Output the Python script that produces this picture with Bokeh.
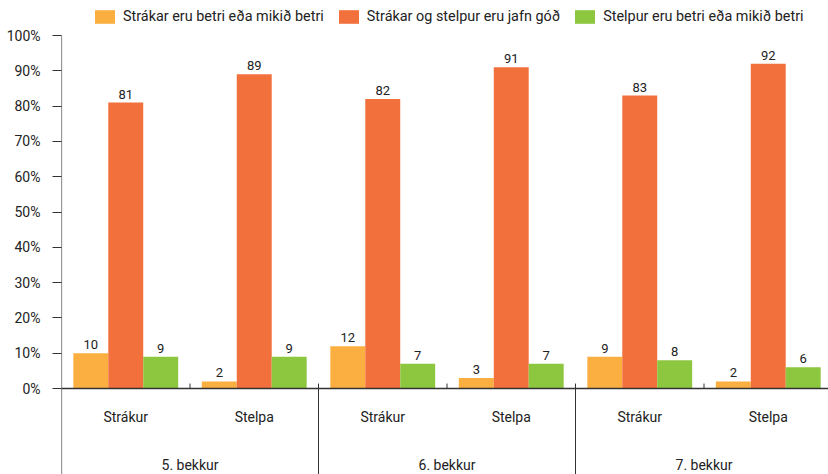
from bokeh.plotting import figure
from bokeh.models import Range1d, Legend, LegendItem, Span, FixedTicker, ColumnDataSource
from bokeh.core.properties import value
from bokeh.embed import file_html
from bokeh.resources import INLINE

# ---- data ----
groups = ["5. bekkur", "6. bekkur", "7. bekkur"]
subgroups = ["Strákur", "Stelpa"]
series_names = [
    "Strákar eru betri eða mikið betri",
    "Strákar og stelpur eru jafn góð",
    "Stelpur eru betri eða mikið betri",
]
boys_better = [10, 2, 12, 3, 9, 2]
equal_good = [81, 89, 82, 91, 83, 92]
girls_better = [9, 9, 7, 7, 8, 6]
y_ticks = [0, 10, 20, 30, 40, 50, 60, 70, 80, 90, 100]
y_tick_labels = ["0%", "10%", "20%", "30%", "40%", "50%", "60%", "70%", "80%", "90%", "100%"]

colors = ["#FAAF40", "#F2703B", "#8DC63F"]
FONT = "Roboto"
TXT = "#222222"
AX = "#333333"

series_values = [boys_better, equal_good, girls_better]
n_cat = len(groups) * len(subgroups)
cat_px = 128.5
bar_w = 0.272
offsets = [-bar_w, 0.0, bar_w]

W, H = 828, 474
left = 61
zero_px = 388          # screen row of the 0% line
px_per_unit = 3.53
frame_w = W - left
x_end = frame_w / cat_px
y_end = zero_px / px_per_unit
y_start = -(H - zero_px) / px_per_unit
y_top = y_ticks[-1]

p = figure(width=W, height=H, x_range=Range1d(0, x_end), y_range=Range1d(y_start, y_end),
           output_backend="svg", toolbar_location=None,
           min_border_left=left, min_border_right=0, min_border_bottom=0, min_border_top=0,
           x_axis_location=None)
p.outline_line_color = None
p.xgrid.visible = False
p.ygrid.visible = False
p.background_fill_color = "white"

centers = [i + 0.5 for i in range(n_cat)]
renderers = []
for k, vals in enumerate(series_values):
    xs = [c + offsets[k] for c in centers]
    src = ColumnDataSource(dict(x=xs, top=vals, label=[str(v) for v in vals]))
    r = p.vbar(x="x", top="top", bottom=0, width=bar_w, source=src,
               fill_color=colors[k], line_color=None)
    renderers.append(r)
    p.text(x="x", y="top", text="label", source=src, text_align="center",
           text_baseline="bottom", y_offset=-4, text_font=value(FONT),
           text_font_size="13px", text_color=TXT)

# baseline
p.add_layout(Span(location=0, dimension="width", line_color=AX, line_width=1.5))

# y-axis line (to 100%) + group separators + sub ticks
p.segment(x0=[0], y0=[y_start], x1=[0], y1=[y_top], line_color=AX, line_width=1.2)
group_bounds = [i * len(subgroups) for i in range(1, len(groups) + 1)]
sub_bounds = [i * len(subgroups) + 1 for i in range(len(groups))]
p.segment(x0=group_bounds, y0=[y_start] * len(group_bounds), x1=group_bounds,
          y1=[1.4] * len(group_bounds), line_color=AX, line_width=1)
p.segment(x0=sub_bounds, y0=[0] * len(sub_bounds), x1=sub_bounds,
          y1=[1.4] * len(sub_bounds), line_color=AX, line_width=1)

# category labels
sub_x = centers
sub_text = [subgroups[i % len(subgroups)] for i in range(n_cat)]
p.text(x=sub_x, y=[-8.2] * n_cat, text=sub_text, text_align="center",
       text_baseline="middle", text_font=value(FONT), text_font_size="14px", text_color=TXT)
grp_x = [i * len(subgroups) + len(subgroups) / 2 for i in range(len(groups))]
p.text(x=grp_x, y=[y_start + 0.3] * len(groups), text=groups, text_align="center",
       text_baseline="bottom", text_font=value(FONT), text_font_size="14px", text_color=TXT)

# y axis
ya = p.yaxis[0]
ya.ticker = FixedTicker(ticks=y_ticks)
ya.major_label_overrides = {t: l for t, l in zip(y_ticks, y_tick_labels)}
ya.major_tick_out = 9
ya.major_tick_in = 0
ya.minor_tick_out = 0
ya.minor_tick_in = 0
ya.axis_line_color = None
ya.major_tick_line_color = AX
ya.major_label_standoff = 12
ya.major_label_text_font = FONT
ya.major_label_text_font_size = "14px"
ya.major_label_text_color = TXT

legend = Legend(items=[LegendItem(label=series_names[i], renderers=[renderers[i]]) for i in range(3)],
                orientation="horizontal", location=(31, H - 25), glyph_width=25, glyph_height=17,
                label_standoff=6, spacing=12, padding=0, margin=0, border_line_color=None,
                background_fill_alpha=0, label_text_font=FONT, label_text_font_size="14.4px",
                label_text_color=TXT, label_height=17)
p.add_layout(legend, "center")

open("out.html", "w").write(file_html(p, INLINE))
